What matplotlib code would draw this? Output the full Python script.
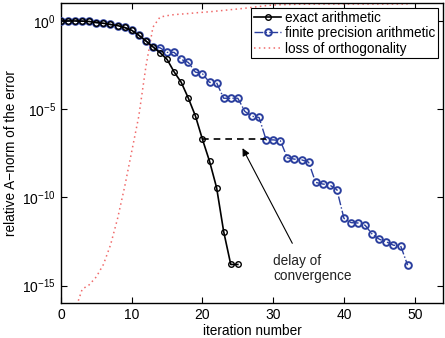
import numpy as np
import matplotlib
matplotlib.use("Agg")
import matplotlib.pyplot as plt
from matplotlib.ticker import LogFormatterSciNotation, NullLocator, FixedLocator

plt.rcParams['font.family'] = ['Liberation Sans', 'DejaVu Sans']
plt.rcParams['mathtext.default'] = 'regular'

# ---- data (log10 of relative A-norm of the error) ----
shared_exp = [0, 0, 0, -0.01, -0.03, -0.09, -0.13, -0.2, -0.26, -0.37,
              -0.53, -0.81, -1.13, -1.47]
exact_tail_exp = [-1.8, -2.18, -2.89, -3.48, -4.37, -5.38, -6.71, -7.95,
                  -9.45, -11.94, -13.8, -13.8]
finite_tail_exp = [-1.52, -1.78, -1.78, -2.18, -2.35, -2.9, -2.99, -3.48, -3.5,
                   -4.38, -4.38, -4.38, -5.13, -5.4, -5.47, -6.74, -6.74, -6.78,
                   -7.76, -7.83, -7.87, -8.0, -9.15, -9.24, -9.3, -9.56,
                   -11.19, -11.43, -11.45, -11.58, -12.09, -12.37, -12.52,
                   -12.71, -12.73, -13.84]
ortho_exp = [-17.5, -17.0, -16.4, -15.2, -14.95, -14.5, -13.8, -12.7, -11.2, -9.4,
             -7.4, -5.4, -2.6, -0.35, 0.22, 0.3, 0.36, 0.39, 0.42, 0.46,
             0.49, 0.52, 0.56, 0.6, 0.64, 0.68, 0.72, 0.77, 0.82, 0.87,
             0.9, 0.92, 0.93, 0.94, 0.95, 0.95, 0.96, 0.96, 0.96, 0.96,
             0.96, 0.96, 0.96, 0.96, 0.96, 0.96, 0.96, 0.96, 0.96, 0.96]

exact_exp = shared_exp + exact_tail_exp
finite_exp = shared_exp + finite_tail_exp
exact_it = np.arange(len(exact_exp))
finite_it = np.arange(len(finite_exp))
ortho_it = np.arange(len(ortho_exp))

delay_x = [20, 29]
delay_exp = [-6.71, -6.71]
arrow_head = (25.66, -7.21)
arrow_tail = (32.7, -12.6)
label_pos = (30.0, -14.03)

labels = ['exact arithmetic', 'finite precision arithmetic', 'loss of orthogonality']
xticks = [0, 10, 20, 30, 40, 50]
yticks_exp = [0, -5, -10, -15]

blue = '#2a3e9e'
red = '#f06a6a'

fig = plt.figure(figsize=(4.45, 3.38), dpi=100)
ax = fig.add_axes([0.137, 0.1027, 0.8585, 0.8875])

ax.semilogy(exact_it, 10.0 ** np.array(exact_exp), '-o', color='black', lw=1.2,
            ms=4.0, mfc='none', mew=1.0, label=labels[0], zorder=4)
ax.semilogy(finite_it, 10.0 ** np.array(finite_exp), '-.o', color=blue, lw=1.0,
            ms=4.8, mfc='none', mew=1.4, label=labels[1], zorder=3)
ax.semilogy(ortho_it, 10.0 ** np.array(ortho_exp), color=red, lw=1.1,
            linestyle=(0, (1, 2.2)), label=labels[2], zorder=2)
ax.semilogy(delay_x, 10.0 ** np.array(delay_exp), '--', color='black', lw=1.2,
            dashes=(4, 3), zorder=3)

ax.annotate('', xy=(arrow_head[0], 10 ** arrow_head[1]),
            xytext=(arrow_tail[0], 10 ** arrow_tail[1]),
            arrowprops=dict(arrowstyle='-|>', color='black', lw=0.8,
                            mutation_scale=11, shrinkA=0, shrinkB=0))
ax.text(label_pos[0], 10 ** label_pos[1], 'delay of\nconvergence', fontsize=9.8,
        ha='left', va='center', linespacing=1.15, color='#222222')

ax.set_xlim(0, 54)
ax.set_ylim(1e-16, 1e1)
ax.xaxis.set_major_locator(FixedLocator(xticks))
ax.yaxis.set_major_locator(FixedLocator([10.0 ** e for e in yticks_exp]))
ax.yaxis.set_major_formatter(LogFormatterSciNotation())
ax.yaxis.set_minor_locator(NullLocator())
ax.tick_params(direction='in', length=4, width=0.8, top=True, right=True,
               labelsize=10, colors='black')
for s in ax.spines.values():
    s.set_linewidth(1.0)

ax.set_xlabel('iteration number', fontsize=9.8, labelpad=1)
ax.set_ylabel('relative A\u2212norm of the error', fontsize=9.8, labelpad=3)

leg = ax.legend(loc='upper right', fontsize=9.8, frameon=True, fancybox=False,
                edgecolor='black', framealpha=1, borderpad=0.2, labelspacing=0.1,
                handlelength=2.0, handletextpad=0.3, borderaxespad=0.35)
leg.get_frame().set_linewidth(0.8)

fig.savefig('out.png', dpi=100)
